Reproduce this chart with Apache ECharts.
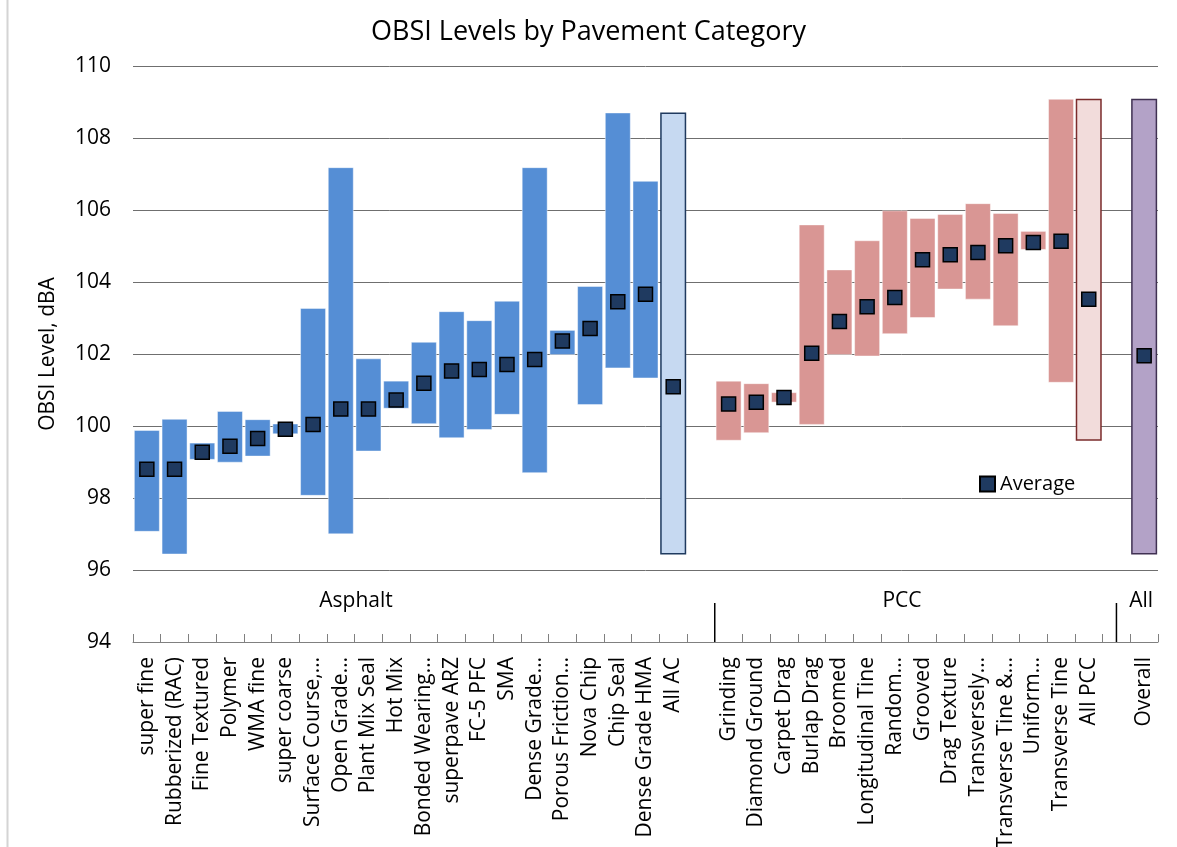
<!DOCTYPE html>
<html>
<head>
<meta charset="utf-8">
<title>OBSI Levels by Pavement Category</title>
<script src="https://cdn.jsdelivr.net/npm/echarts@6/dist/echarts.min.js"></script>
<style>
html, body { margin: 0; padding: 0; background: #fff; }
#main { width: 1177px; height: 847px; }
</style>
</head>
<body>
<div id="main"></div>
<script>
// asphalt
var acNames = ['super fine', 'Rubberized (RAC)', 'Fine Textured', 'Polymer', 'WMA fine', 'super coarse',
    'Surface Course,…', 'Open Grade…', 'Plant Mix Seal', 'Hot Mix', 'Bonded Wearing…', 'superpave ARZ',
    'FC-5 PFC', 'SMA', 'Dense Grade…', 'Porous Friction…', 'Nova Chip', 'Chip Seal', 'Dense Grade HMA', 'All AC'];
var acLow = [97.06, 96.43, 99.06, 98.98, 99.15, 99.77, 98.06, 96.99, 99.29, 100.48, 100.05, 99.66,
    99.89, 100.31, 98.69, 101.97, 100.58, 101.60, 101.32, 96.43];
var acHigh = [99.89, 100.20, 99.54, 100.42, 100.19, 100.07, 103.28, 107.19, 101.88, 101.26, 102.34, 103.19,
    102.94, 103.48, 107.19, 102.67, 103.89, 108.71, 106.81, 108.71];
var acAvg = [98.80, 98.80, 99.27, 99.44, 99.65, 99.91, 100.04, 100.47, 100.47, 100.72, 101.19, 101.53,
    101.57, 101.71, 101.85, 102.36, 102.71, 103.45, 103.66, 101.09];

// concrete
var pccNames = ['Grinding', 'Diamond Ground', 'Carpet Drag', 'Burlap Drag', 'Broomed', 'Longitudinal Tine',
    'Random…', 'Grooved', 'Drag Texture', 'Transversely…', 'Transverse Tine &…', 'Uniform…',
    'Transverse Tine', 'All PCC'];
var pccLow = [99.59, 99.80, 100.65, 100.03, 101.97, 101.93, 102.55, 103.00, 103.79, 103.51, 102.77, 104.89,
    101.20, 99.59];
var pccHigh = [101.26, 101.19, 100.94, 105.60, 104.35, 105.16, 105.99, 105.78, 105.89, 106.19, 105.92, 105.42,
    109.09, 109.09];
var pccAvg = [100.61, 100.66, 100.79, 102.02, 102.90, 103.31, 103.57, 104.62, 104.76, 104.82, 105.01, 105.10,
    105.13, 103.52];

// everything
var allNames = ['Overall'];
var allLow = [96.43];
var allHigh = [109.09];
var allAvg = [101.95];

var groupNames = ['Asphalt', 'PCC', 'All'];

var FONT = 'Open Sans';
var styles = {
    ac: { color: '#558ed5', borderColor: 'rgba(255,255,255,0.45)', borderWidth: 1 },
    acAll: { color: '#c6d9f1', borderColor: '#1f3a5f', borderWidth: 1.5 },
    pcc: { color: '#d99694', borderColor: 'rgba(255,255,255,0.45)', borderWidth: 1 },
    pccAll: { color: '#f2dcdb', borderColor: '#7b2c2c', borderWidth: 1.5 },
    all: { color: '#b3a2c7', borderColor: '#403152', borderWidth: 1.5 }
};

var cats = [];
var baseData = [];
var rangeData = [];
var avgData = [];

function addGroup(names, lo, hi, av, kind, lastKind) {
    for (var i = 0; i < names.length; i++) {
        cats.push(names[i]);
        baseData.push(lo[i]);
        var st = (i == names.length - 1) ? styles[lastKind] : styles[kind];
        rangeData.push({ value: +(hi[i] - lo[i]).toFixed(2), itemStyle: st });
        avgData.push(av[i]);
    }
}
function addGap() {
    cats.push('');
    baseData.push('-');
    rangeData.push('-');
    avgData.push('-');
}

addGroup(acNames, acLow, acHigh, acAvg, 'ac', 'acAll');
addGap();
addGroup(pccNames, pccLow, pccHigh, pccAvg, 'pcc', 'pccAll');
addGap();
addGroup(allNames, allLow, allHigh, allAvg, 'all', 'all');

var myChart = echarts.init(document.getElementById('main'));
var option = {
    animation: false,
    textStyle: { fontFamily: FONT },
    title: {
        text: 'OBSI Levels by Pavement Category',
        left: 'center',
        top: 19,
        padding: 0,
        textStyle: { fontSize: 27, fontWeight: 'normal', color: '#000', fontFamily: FONT }
    },
    legend: {
        data: ['Average'],
        left: 974,
        top: 469,
        itemWidth: 15,
        itemHeight: 15,
        textStyle: { fontSize: 20, color: '#000', fontFamily: FONT }
    },
    grid: { left: 133, right: 19, top: 66, bottom: 205, containLabel: false, outerBoundsMode: 'none' },
    xAxis: {
        type: 'category',
        data: cats,
        axisLine: { lineStyle: { color: '#808080', width: 1 } },
        axisTick: { show: true, inside: true, length: 8, interval: 0, lineStyle: { color: '#808080' } },
        axisLabel: { interval: 0, rotate: 90, margin: 15, fontSize: 21, color: '#000', fontFamily: FONT }
    },
    yAxis: {
        type: 'value',
        min: 94,
        max: 110,
        interval: 2,
        name: 'OBSI Level, dBA',
        nameLocation: 'middle',
        nameGap: 74,
        nameTextStyle: { fontSize: 21, color: '#000', fontFamily: FONT },
        axisLine: { show: false },
        axisTick: { show: false },
        axisLabel: { fontSize: 21, color: '#000', margin: 22, fontFamily: FONT },
        splitLine: { lineStyle: { color: '#6f6f6f', width: 1 } }
    },
    series: [{
        name: 'base',
        type: 'bar',
        stack: 'range',
        barWidth: 26,
        silent: true,
        itemStyle: { color: 'transparent' },
        data: baseData
    },
    {
        name: 'Range',
        type: 'bar',
        stack: 'range',
        barWidth: 26,
        data: rangeData
    },
    {
        name: 'Average',
        type: 'scatter',
        symbol: 'rect',
        symbolSize: 14,
        z: 5,
        itemStyle: { color: '#1f3a60', borderColor: '#000', borderWidth: 1.5, opacity: 1 },
        data: avgData
    }]
};
myChart.setOption(option);

function drawExtras() {
    var x0 = myChart.convertToPixel({ xAxisIndex: 0 }, 0);
    var step = myChart.convertToPixel({ xAxisIndex: 0 }, 1) - x0;
    var yBase = myChart.convertToPixel({ yAxisIndex: 0 }, 94);
    var sep1 = x0 + 20.5 * step;
    var sep2 = x0 + 35 * step;
    var labelPos = [7.55, 27.26, 35.89];
    var g = [];
    g.push({ type: 'line', shape: { x1: 7.5, y1: 0, x2: 7.5, y2: 847 }, style: { stroke: '#d4d4d4', lineWidth: 2 } });
    [sep1, sep2].forEach(function (sx) {
        g.push({ type: 'line', shape: { x1: sx, y1: yBase - 39, x2: sx, y2: yBase }, style: { stroke: '#000', lineWidth: 1.5 } });
    });
    for (var i = 0; i < groupNames.length; i++) {
        g.push({
            type: 'text',
            x: x0 + labelPos[i] * step,
            y: yBase - 41,
            style: { text: groupNames[i], fontSize: 21, fill: '#000', fontFamily: FONT, align: 'center', verticalAlign: 'middle' }
        });
    }
    myChart.setOption({ graphic: g });
}
drawExtras();
window.addEventListener('resize', function () {
    myChart.resize();
    drawExtras();
});
</script>
</body>
</html>
